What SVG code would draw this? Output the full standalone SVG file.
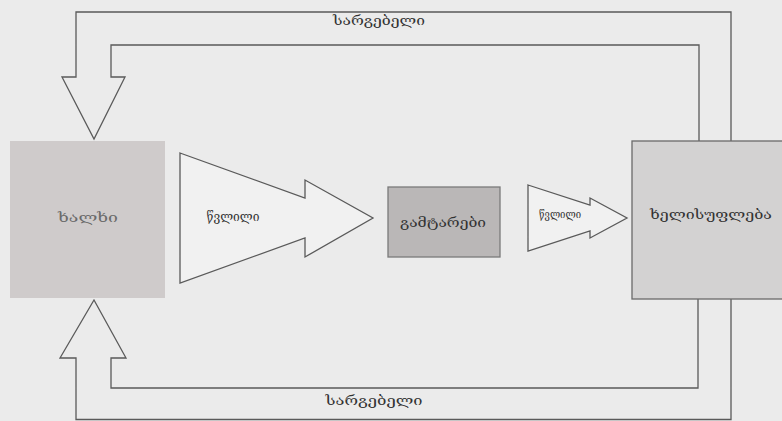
<svg xmlns="http://www.w3.org/2000/svg" width="782" height="421" viewBox="0 0 782 421">
<style>
.ln{fill:none;stroke:#5a5a5a;stroke-width:1.3;stroke-linejoin:miter}
.ar{fill:#f1f1f1;stroke:#5a5a5a;stroke-width:1.3}
.t{font-family:"DejaVu Serif","DejaVu Sans",serif;font-size:13px;fill:#333;text-anchor:middle;dominant-baseline:central}
</style>
<rect width="782" height="421" fill="#ebebeb"/>
<g id="connectors">
<path class="ln" d="M731,141 V12 H76 V77 H62 L94,139 L125,77 H111 V45 H699 V141"/>
<path class="ln" d="M731,299 V419.5 H76 V358 H60 L94,300 L126,358 H111 V388 H698 V299"/>
<polygon class="ar" points="180,153 305,198 305,180 373,218 305,257 305,238 180,283"/>
<polygon class="ar" points="528,185 590,205 590,198 627,218 590,238 590,231 528,251"/>
</g>
<g id="people"><rect x="10" y="141" width="155" height="157" fill="#cfcbcb"/><text class="t" x="88" y="217" style="fill:#6a6a6a" textLength="60" lengthAdjust="spacingAndGlyphs">ხალხი</text></g>
<g id="conductors"><rect x="388" y="187" width="112" height="70" fill="#bab7b7" stroke="#7a7a7a" stroke-width="1.3"/><text class="t" x="443" y="222" textLength="86" lengthAdjust="spacingAndGlyphs">გამტარები</text></g>
<g id="government"><rect x="632" y="141" width="160" height="158" fill="#d3d2d2" stroke="#6a6a6a" stroke-width="1.3"/><text class="t" x="711" y="214" textLength="122" lengthAdjust="spacingAndGlyphs">ხელისუფლება</text></g>
<g id="labels">
<text class="t" x="379" y="20" textLength="92" lengthAdjust="spacingAndGlyphs">სარგებელი</text>
<text class="t" x="374" y="400" textLength="97" lengthAdjust="spacingAndGlyphs">სარგებელი</text>
<text class="t" x="233" y="216" textLength="53" lengthAdjust="spacingAndGlyphs">წვლილი</text>
<text class="t" x="560" y="214" style="font-size:11px" textLength="42" lengthAdjust="spacingAndGlyphs">წვლილი</text>
</g>
</svg>
